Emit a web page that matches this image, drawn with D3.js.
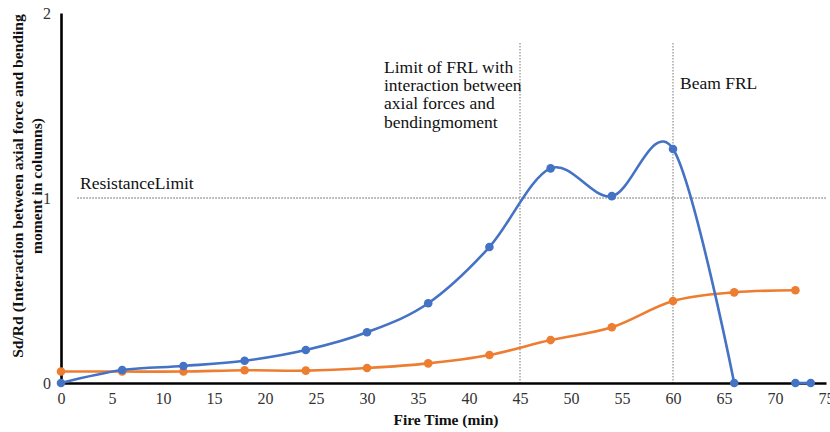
<!DOCTYPE html>
<html>
<head>
<meta charset="utf-8">
<script src="https://cdn.jsdelivr.net/npm/d3@7"></script>
<style>
  html, body { margin: 0; padding: 0; background: #fff; }
  svg { display: block; }
</style>
</head>
<body>
<svg id="chart" width="830" height="432"></svg>
<script>
// Fire time (min) against Sd/Rd
const xTicks = [0, 5, 10, 15, 20, 25, 30, 35, 40, 45, 50, 55, 60, 65, 70, 75];
const yTicks = [0, 1, 2];

// Column interaction ratio, up to failure
const columnTime  = [0, 6, 12, 18, 24, 30, 36, 42, 48, 54, 60, 66];
const columnValue = [0, 0.07, 0.092, 0.12, 0.178, 0.274, 0.431, 0.735, 1.16, 1.01, 1.265, 0];
// Column readings after failure
const columnTailTime  = [72, 73.5];
const columnTailValue = [0, 0];

// Beam ratio
const beamTime  = [0, 6, 12, 18, 24, 30, 36, 42, 48, 54, 60, 66, 72];
const beamValue = [0.062, 0.062, 0.062, 0.069, 0.067, 0.081, 0.106, 0.151, 0.232, 0.301, 0.443, 0.49, 0.501];

// Reference levels
const resistanceLimit = 1;
const frlLimits = [45, 60];

const SERIF = "'Liberation Serif', 'Times New Roman', Times, 'DejaVu Serif', serif";

const svg = d3.select("#chart");
const x = d3.scaleLinear().domain([0, 75]).range([61, 826]);
const y = d3.scaleLinear().domain([0, 2]).range([383, 13]);

const blue = "#4472C4", orange = "#ED7D31";

// Dotted reference lines
svg.append("line")
  .attr("x1", x(1.6)).attr("x2", x(75))
  .attr("y1", y(resistanceLimit)).attr("y2", y(resistanceLimit))
  .attr("stroke", "#444").attr("stroke-width", 0.9).attr("stroke-dasharray", "1.5,1.5");

svg.selectAll("line.frl").data(frlLimits).enter().append("line")
  .attr("class", "frl")
  .attr("x1", d => x(d)).attr("x2", d => x(d))
  .attr("y1", 43).attr("y2", y(0))
  .attr("stroke", "#666").attr("stroke-width", 0.9).attr("stroke-dasharray", "1.5,1.5");

// Annotations
svg.append("text").attr("x", 80).attr("y", 189).attr("font-family", SERIF)
  .attr("font-size", 17.5).attr("fill", "#111").text("ResistanceLimit");

const note = svg.append("text").attr("x", 384).attr("y", 73).attr("font-family", SERIF)
  .attr("font-size", 17.5).attr("fill", "#111");
["Limit of FRL with", "interaction between", "axial forces and", "bendingmoment"]
  .forEach((t, i) => note.append("tspan").attr("x", 384).attr("dy", i === 0 ? 0 : 18.2).text(t));

svg.append("text").attr("x", 680).attr("y", 89).attr("font-family", SERIF)
  .attr("font-size", 17.5).attr("fill", "#111").text("Beam FRL");

// Axes
const xAxis = svg.append("g").attr("transform", `translate(0,${y(0)})`)
  .call(d3.axisBottom(x).tickValues(xTicks).tickSize(0).tickPadding(10).tickFormat(d3.format("d")));
const yAxis = svg.append("g").attr("transform", `translate(${x(0)},0)`)
  .call(d3.axisLeft(y).tickValues(yTicks).tickSize(0).tickPadding(10).tickFormat(d3.format("d")));

[xAxis, yAxis].forEach(g => {
  g.attr("font-family", SERIF);
  g.select(".domain").attr("stroke", "#000").attr("stroke-width", 2.6);
  g.selectAll("text").attr("font-family", SERIF)
    .attr("font-size", 16).attr("fill", "#333");
});

// Axis titles
svg.append("text").attr("x", 446).attr("y", 425).attr("text-anchor", "middle")
  .attr("font-family", SERIF)
  .attr("font-size", 15.5).attr("font-weight", "bold").attr("fill", "#111")
  .text("Fire Time (min)");

const yTitle = svg.append("text").attr("transform", "translate(23,186) rotate(-90)")
  .attr("font-family", SERIF)
  .attr("text-anchor", "middle").attr("font-size", 15.6).attr("font-weight", "bold").attr("fill", "#111");
yTitle.append("tspan").attr("x", 0).attr("dy", 0).text("Sd/Rd (Interaction between axial force and bending");
yTitle.append("tspan").attr("x", 0).attr("dy", 19).text("moment in columns)");

// Series
const smooth = d3.line().x(d => x(d[0])).y(d => y(d[1])).curve(d3.curveCatmullRom.alpha(0));
const straight = d3.line().x(d => x(d[0])).y(d => y(d[1]));

const beamPts = d3.zip(beamTime, beamValue);
const colPts = d3.zip(columnTime, columnValue);
const tailPts = d3.zip(columnTailTime, columnTailValue);

svg.append("path").attr("d", smooth(beamPts))
  .attr("fill", "none").attr("stroke", orange).attr("stroke-width", 2.6);
svg.selectAll("circle.beam").data(beamPts).enter().append("circle")
  .attr("class", "beam").attr("cx", d => x(d[0])).attr("cy", d => y(d[1]))
  .attr("r", 4.3).attr("fill", orange);

svg.append("path").attr("d", smooth(colPts))
  .attr("fill", "none").attr("stroke", blue).attr("stroke-width", 2.6);
svg.append("path").attr("d", straight(tailPts))
  .attr("fill", "none").attr("stroke", blue).attr("stroke-width", 2.6);
svg.selectAll("circle.col").data(colPts.concat(tailPts)).enter().append("circle")
  .attr("class", "col").attr("cx", d => x(d[0])).attr("cy", d => y(d[1]))
  .attr("r", 4.3).attr("fill", blue);
</script>
</body>
</html>
